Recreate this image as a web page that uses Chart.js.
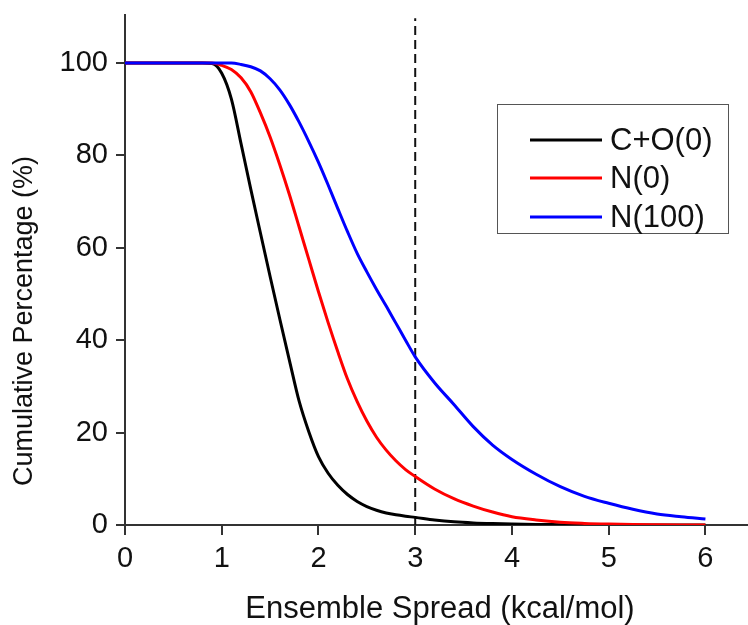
<!DOCTYPE html>
<html>
<head>
<meta charset="utf-8">
<script src="https://cdn.jsdelivr.net/npm/chart.js@4.4.1/dist/chart.umd.min.js"></script>
<style>
  html, body { margin: 0; padding: 0; background: #fff; }
  #wrap { width: 748px; height: 625px; }
</style>
</head>
<body>
<div id="wrap"><canvas id="chart" width="748" height="625"></canvas></div>
<script>
// ensemble spread (kcal/mol)
const spread = [0, 0.5, 0.8, 0.9, 1.0, 1.1, 1.2, 1.3, 1.4, 1.5, 1.6, 1.7, 1.8, 1.9, 2.0,
  2.1, 2.2, 2.3, 2.4, 2.5, 2.6, 2.7, 2.8, 2.9, 3.0, 3.2, 3.4, 3.6, 3.8, 4.0,
  4.25, 4.5, 4.75, 5.0, 5.25, 5.5, 5.75, 6.0];

const seriesNames = ["C+O(0)", "N(0)", "N(100)"];
const seriesColors = ["#000000", "#ff0000", "#0000ff"];

const coPct = [100, 100, 100, 99.9, 97.8, 92.2, 82.5, 72.7, 63.2, 53.8, 44.6, 35.6, 26.8, 20.2, 14.8,
  11.2, 8.6, 6.6, 5.1, 4.0, 3.2, 2.6, 2.2, 1.9, 1.65, 1.1, 0.7, 0.45, 0.3, 0.2,
  0.12, 0.08, 0.05, 0.03, 0.02, 0.01, 0, 0];
const n0Pct = [100, 100, 100, 100, 99.5, 98.6, 96.8, 93.8, 89.2, 84, 78, 71.5, 64.5, 57.5, 50.5,
  43.8, 37.5, 31.6, 26.7, 22.5, 19, 16.2, 13.9, 12, 10.5, 7.8, 5.7, 4.1, 2.8, 1.8,
  1.1, 0.6, 0.35, 0.2, 0.1, 0.05, 0.02, 0];
const n100Pct = [100, 100, 100, 100, 100, 100, 99.7, 99.2, 98.3, 96.6, 94.2, 91, 87.2, 83, 78.5,
  73.6, 68.5, 63.5, 58.8, 54.8, 51, 47.4, 43.7, 40, 36.4, 30.8, 26.1, 21.3, 17.3, 14.2,
  11, 8.3, 6.2, 4.7, 3.4, 2.4, 1.8, 1.3];

const cutoffX = 3;
const xTicks = [0, 1, 2, 3, 4, 5, 6];
const yTicks = [0, 20, 40, 60, 80, 100];

const FONT = "'Liberation Sans', Arial, sans-serif";

function pts(ys) {
  return spread.map((x, i) => ({ x: x, y: ys[i] }));
}

const allSeries = [coPct, n0Pct, n100Pct];
const datasets = allSeries.map((ys, i) => ({
  label: seriesNames[i],
  data: pts(ys),
  borderColor: seriesColors[i],
  borderWidth: 3,
  pointRadius: 0,
  showLine: true,
  cubicInterpolationMode: "monotone",
  order: 3 - i,
}));
datasets.push({
  label: "cutoff",
  data: [{ x: cutoffX, y: 0 }, { x: cutoffX, y: 109.7 }],
  borderColor: "#111",
  borderWidth: 2,
  borderDash: [9, 5],
  pointRadius: 0,
  showLine: true,
  order: 10,
});

// axis titles + boxed legend drawn by hand
const extras = {
  id: "extras",
  afterDraw(chart) {
    const c = chart.ctx;
    c.save();
    c.fillStyle = "#111";
    c.textAlign = "center";
    c.textBaseline = "middle";
    c.font = "31px " + FONT;
    c.fillText("Ensemble Spread (kcal/mol)", 440, 609);
    c.translate(25, 321);
    c.rotate(-Math.PI / 2);
    c.font = "27px " + FONT;
    c.fillText("Cumulative Percentage (%)", 0, 0);
    c.restore();

    c.save();
    c.strokeStyle = "#555";
    c.lineWidth = 1;
    c.fillStyle = "#fff";
    c.fillRect(497.5, 104.5, 231, 129);
    c.strokeRect(497.5, 104.5, 231, 129);
    const rows = [140, 178, 217];
    c.font = "31px " + FONT;
    c.textAlign = "left";
    c.textBaseline = "middle";
    seriesNames.forEach((name, i) => {
      c.strokeStyle = seriesColors[i];
      c.lineWidth = 3;
      c.beginPath();
      c.moveTo(530, rows[i]);
      c.lineTo(602, rows[i]);
      c.stroke();
      c.fillStyle = "#111";
      c.fillText(name, 610, rows[i] + 1);
    });
    c.restore();
  },
};

new Chart(document.getElementById("chart"), {
  type: "scatter",
  data: { datasets: datasets },
  options: {
    responsive: false,
    animation: false,
    layout: { padding: { top: 15, right: 0, bottom: 0, left: 0 } },
    plugins: { legend: { display: false }, tooltip: { enabled: false } },
    scales: {
      x: {
        type: "linear",
        min: 0,
        max: 6.44,
        afterBuildTicks: (s) => { s.ticks = xTicks.map((v) => ({ value: v })); },
        afterFit: (s) => { s.height = 100; s.paddingLeft = 0; s.paddingRight = 0; },
        ticks: { color: "#111", font: { family: FONT, size: 29 }, padding: 7, maxRotation: 0 },
        grid: { drawOnChartArea: false, drawTicks: true, tickLength: 10, color: "#333", lineWidth: 2 },
        border: { display: true, color: "#333", width: 2 },
      },
      y: {
        type: "linear",
        min: 0,
        max: 110.4,
        afterBuildTicks: (s) => { s.ticks = yTicks.map((v) => ({ value: v })); },
        afterFit: (s) => { s.width = 125; s.paddingTop = 0; s.paddingBottom = 0; },
        ticks: { color: "#111", font: { family: FONT, size: 29 }, padding: 8 },
        grid: { drawOnChartArea: false, drawTicks: true, tickLength: 9, color: "#333", lineWidth: 2 },
        border: { display: true, color: "#333", width: 2 },
      },
    },
  },
  plugins: [extras],
});
</script>
</body>
</html>
